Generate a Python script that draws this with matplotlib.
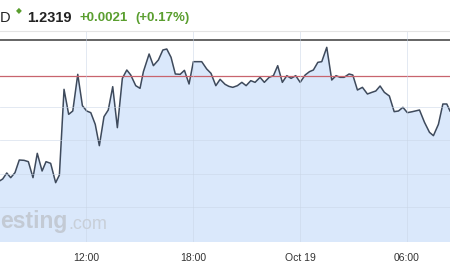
import matplotlib
matplotlib.use("Agg")
import matplotlib.pyplot as plt

plt.rcParams['font.family'] = ['Liberation Sans', 'DejaVu Sans']

# hours since Oct 18 00:00 (15-min bars)
hours = [7.18, 7.33, 7.56, 7.78, 8.02, 8.26, 8.53, 8.77, 9.03, 9.27,
         9.54, 9.76, 10.02, 10.30, 10.51, 10.77, 11.03, 11.26, 11.54, 11.80,
         12.04, 12.27, 12.52, 12.75, 13.01, 13.25, 13.50, 13.76, 14.04, 14.29,
         14.51, 14.79, 15.03, 15.22, 15.54, 15.78, 16.06, 16.31, 16.53, 16.77,
         17.01, 17.28, 17.52, 17.78, 18.02, 18.26, 18.49, 18.77, 19.01, 19.28,
         19.52, 19.80, 20.01, 20.23, 20.49, 20.74, 20.98, 21.24, 21.48, 21.76,
         22.00, 22.27, 22.51, 22.75, 23.01, 23.26, 23.50, 23.76, 24.01, 24.29,
         24.53, 24.75, 25.00, 25.22, 25.50, 25.78, 26.02, 26.25, 26.47, 26.75,
         26.96, 27.22, 27.50, 27.78, 28.03, 28.25, 28.49, 28.73, 29.01, 29.28,
         29.52, 29.77, 30.02, 30.30, 30.70, 30.98, 31.26, 31.48, 31.76, 32.01,
         32.23, 32.41]
price = [1.22779, 1.22784, 1.22802, 1.22788, 1.22803, 1.22841, 1.22840, 1.22836, 1.22788, 1.22861,
         1.22808, 1.22836, 1.22831, 1.22773, 1.22796, 1.23053, 1.22978, 1.22988, 1.23098, 1.23004,
         1.22988, 1.22983, 1.22948, 1.22884, 1.22971, 1.22991, 1.23061, 1.22938, 1.23086, 1.23111,
         1.23096, 1.23064, 1.23056, 1.23106, 1.23159, 1.23124, 1.23141, 1.23171, 1.23174, 1.23149,
         1.23099, 1.23098, 1.23110, 1.23069, 1.23136, 1.23136, 1.23136, 1.23114, 1.23101, 1.23064,
         1.23083, 1.23068, 1.23062, 1.23059, 1.23064, 1.23074, 1.23064, 1.23079, 1.23074, 1.23089,
         1.23074, 1.23089, 1.23094, 1.23124, 1.23074, 1.23094, 1.23086, 1.23094, 1.23074, 1.23096,
         1.23106, 1.23111, 1.23134, 1.23136, 1.23179, 1.23081, 1.23094, 1.23089, 1.23089, 1.23099,
         1.23096, 1.23051, 1.23059, 1.23039, 1.23044, 1.23048, 1.23063, 1.23044, 1.23033, 1.22986,
         1.22988, 1.22999, 1.22983, 1.22986, 1.22991, 1.22954, 1.22924, 1.22914, 1.22948, 1.23009,
         1.23009, 1.22988]

prev_close = 1.23093
high_line = 1.23201
grid_levels = [1.2270, 1.2280, 1.2290, 1.2300]
tick_hours = [12, 18, 24, 30]
tick_labels = ['12:00', '18:00', 'Oct 19', '06:00']

fig = plt.figure(figsize=(4.5, 2.7), dpi=100)
ax = fig.add_axes([0, 28 / 270, 1, 211 / 270])

ax.fill_between(hours, price, 1.22595, color='#dae8fb', lw=0)
ax.plot(hours, price, color='#3e4a5c', lw=1.1)
ax.axhline(prev_close, color='#c8646e', lw=0.9)
ax.axhline(high_line, color='#4a4a4a', lw=1.2)

for g in grid_levels:
    ax.axhline(g, color='#c9d5e6', lw=0.6, alpha=0.6)
for t in tick_hours:
    ax.axvline(t, color='#c9d5e6', lw=0.6, alpha=0.6)

ax.set_xlim(7.18, 32.41)
ax.set_ylim(1.22595, 1.23228)
ax.set_xticks(tick_hours)
ax.set_xticklabels(tick_labels, fontsize=7.5, color='#333333')
ax.tick_params(axis='x', length=0, pad=8)
ax.set_yticks([])
for s in ['left', 'right', 'bottom']:
    ax.spines[s].set_visible(False)
ax.spines['top'].set_color('#e4e4e4')
ax.spines['top'].set_linewidth(0.8)

# watermark
ax.text(0.0, 0.095, 'esting', transform=ax.transAxes, fontsize=16.5, fontweight='bold',
        color='#c3cad4', va='center', ha='left')
ax.text(0.151, 0.085, '.com', transform=ax.transAxes, fontsize=13,
        color='#c8cfd8', va='center', ha='left')

# header
fig.text(0.0, 1 - 18 / 270, 'D', fontsize=10.5, color='#222222', va='center')
fig.text(19 / 450, 1 - 12 / 270, '\u25c6', fontsize=5.5, color='#5a9e2f', va='center', ha='center')
fig.text(27 / 450, 1 - 18 / 270, '1.2319', fontsize=10.5, fontweight='bold', color='#222222', va='center')
fig.text(80 / 450, 1 - 18 / 270, '+0.0021', fontsize=9.5, fontweight='bold', color='#5a9e2f', va='center')
fig.text(135 / 450, 1 - 18 / 270, '(+0.17%)', fontsize=9.5, fontweight='bold', color='#5a9e2f', va='center')

fig.savefig('out.png', dpi=100)
